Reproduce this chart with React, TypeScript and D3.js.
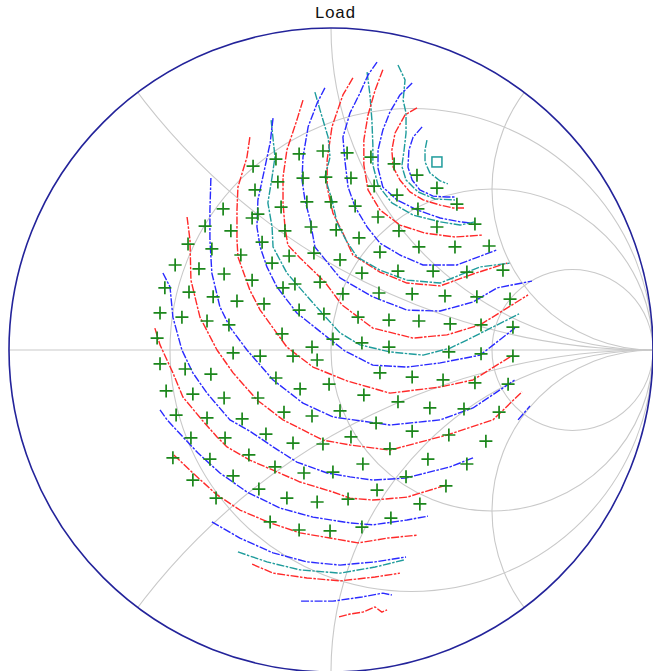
import React from 'react';
import * as d3 from 'd3';

type Pt = [number, number];

// ---- Smith chart grid ----
const chartTitle = 'Load';
const resistanceCircles = [1 / 3, 1, 3];
const reactanceArcs = [0.5, 1, 2, -0.5, -1, -2];

// ---- Measured load impedances (reflection coefficient, re/im) ----
const measuredPoints: Pt[] = [
  [-0.242, 0.571], [-0.171, 0.593], [-0.099, 0.609], [-0.025, 0.618], [0.05, 0.612], [0.124, 0.599],
  [0.196, 0.578], [0.267, 0.543], [0.329, 0.503], [0.391, 0.453], [0.447, 0.391], [0.491, 0.323],
  [0.534, 0.248], [0.556, 0.158], [0.565, 0.071], [0.565, -0.019], [0.55, -0.106], [0.522, -0.193],
  [0.481, -0.283], [0.422, -0.354], [0.357, -0.422], [0.276, -0.478], [0.186, -0.522], [0.096, -0.55],
  [-0.003, -0.562], [-0.099, -0.559], [-0.189, -0.534],
  [-0.236, 0.497], [-0.165, 0.522], [-0.087, 0.534], [-0.016, 0.537], [0.062, 0.534], [0.134, 0.509],
  [0.205, 0.481], [0.27, 0.438], [0.329, 0.382], [0.385, 0.32], [0.422, 0.242], [0.453, 0.165],
  [0.466, 0.078], [0.466, -0.012], [0.447, -0.102], [0.413, -0.183], [0.366, -0.264], [0.301, -0.339],
  [0.233, -0.394], [0.143, -0.435], [0.053, -0.463], [-0.043, -0.472], [-0.137, -0.46], [-0.224, -0.432],
  [-0.227, 0.422], [-0.155, 0.444], [-0.075, 0.46], [0.0, 0.46], [0.075, 0.447], [0.146, 0.413],
  [0.211, 0.37], [0.273, 0.32], [0.317, 0.245], [0.354, 0.168], [0.37, 0.081], [0.366, -0.006],
  [0.348, -0.093], [0.307, -0.18], [0.252, -0.252], [0.183, -0.307], [0.099, -0.354], [0.006, -0.379],
  [-0.084, -0.382], [-0.174, -0.363], [-0.255, -0.326],
  [-0.245, 0.41], [-0.143, 0.37], [-0.062, 0.382], [0.016, 0.373], [0.087, 0.348], [0.152, 0.304],
  [0.208, 0.245], [0.252, 0.174], [0.273, 0.09], [0.252, -0.084], [0.208, -0.161], [0.14, -0.227],
  [0.062, -0.27], [-0.025, -0.292], [-0.118, -0.289], [-0.202, -0.261],
  [-0.214, 0.335], [-0.13, 0.292], [-0.053, 0.301], [0.028, 0.28], [0.096, 0.239], [0.149, 0.177],
  [0.18, 0.093], [0.18, 0.009], [0.152, -0.071], [0.102, -0.14], [0.028, -0.189], [-0.059, -0.205],
  [-0.146, -0.193],
  [-0.183, 0.27], [-0.112, 0.205], [-0.034, 0.211], [0.037, 0.174], [0.084, 0.102], [0.096, 0.022],
  [0.006, 0.034], [-0.043, -0.031], [-0.096, -0.121], [-0.006, -0.106], [-0.171, -0.087], [-0.22, -0.019],
  [-0.118, -0.019], [-0.059, 0.009], [-0.152, 0.05],
  [-0.335, 0.438], [-0.391, 0.385], [-0.311, 0.37], [-0.444, 0.329], [-0.37, 0.314], [-0.28, 0.295],
  [-0.484, 0.264], [-0.41, 0.252], [-0.332, 0.236], [-0.245, 0.217], [-0.149, 0.193], [-0.516, 0.193],
  [-0.441, 0.18], [-0.366, 0.165], [-0.292, 0.152], [-0.208, 0.143], [-0.099, 0.124], [-0.022, 0.112],
  [-0.531, 0.115], [-0.463, 0.102], [-0.385, 0.09], [-0.317, 0.078], [-0.54, 0.037], [-0.531, -0.043],
  [-0.453, -0.059], [-0.373, -0.075], [-0.304, -0.009], [-0.512, -0.127], [-0.429, -0.137], [-0.332, -0.149],
  [-0.227, -0.149], [-0.481, -0.202], [-0.385, -0.211], [-0.276, -0.214], [-0.435, -0.273], [-0.329, -0.273],
  [-0.491, -0.335], [-0.376, -0.339], [-0.429, -0.404], [-0.304, -0.391], [-0.357, -0.46],
];

// Optimum load (marker square)
const optimumLoad: Pt = [0.329, 0.584];

// ---- Output power contours, innermost first ----
const contour01: Pt[] = [[0.298, 0.652], [0.292, 0.621], [0.292, 0.584], [0.307, 0.55], [0.339, 0.525], [0.363, 0.516]];
const contour02: Pt[] = [[0.283, 0.693], [0.255, 0.661], [0.242, 0.621], [0.239, 0.568], [0.252, 0.528], [0.276, 0.497], [0.317, 0.478], [0.36, 0.475], [0.385, 0.475]];
const contour03: Pt[] = [[0.208, 0.885], [0.23, 0.839], [0.224, 0.776], [0.233, 0.736], [0.233, 0.674], [0.227, 0.621], [0.22, 0.571], [0.233, 0.528], [0.27, 0.491], [0.323, 0.469], [0.385, 0.466]];
const contour04: Pt[] = [[0.267, 0.752], [0.23, 0.73], [0.199, 0.674], [0.189, 0.621], [0.193, 0.568], [0.214, 0.528], [0.245, 0.491], [0.286, 0.466], [0.339, 0.45], [0.379, 0.441], [0.416, 0.441]];
const contour05: Pt[] = [[0.252, 0.829], [0.214, 0.792], [0.183, 0.739], [0.161, 0.683], [0.146, 0.621], [0.146, 0.565], [0.161, 0.506], [0.205, 0.466], [0.267, 0.435], [0.339, 0.41], [0.401, 0.398], [0.438, 0.394]];
const contour06: Pt[] = [[0.112, 0.863], [0.121, 0.792], [0.127, 0.714], [0.13, 0.637], [0.13, 0.575], [0.146, 0.512], [0.189, 0.457], [0.255, 0.419], [0.339, 0.398], [0.401, 0.388], [0.447, 0.398]];
const contour07: Pt[] = [[0.161, 0.87], [0.137, 0.807], [0.115, 0.73], [0.102, 0.652], [0.102, 0.575], [0.115, 0.497], [0.152, 0.435], [0.214, 0.388], [0.292, 0.363], [0.385, 0.351], [0.472, 0.357]];
const contour08: Pt[] = [[0.143, 0.894], [0.115, 0.854], [0.09, 0.798], [0.059, 0.736], [0.037, 0.661], [0.043, 0.59], [0.053, 0.506], [0.075, 0.444], [0.112, 0.382], [0.152, 0.332], [0.214, 0.295], [0.286, 0.264], [0.391, 0.264], [0.516, 0.311]];
const contour09: Pt[] = [[0.068, 0.845], [0.037, 0.792], [0.003, 0.693], [-0.012, 0.59], [-0.012, 0.506], [0.006, 0.425], [0.037, 0.363], [0.068, 0.295], [0.152, 0.242], [0.236, 0.208], [0.339, 0.199], [0.441, 0.236], [0.547, 0.27]];
const contour10: Pt[] = [[-0.05, 0.801], [-0.034, 0.745], [-0.009, 0.661], [-0.003, 0.599], [-0.019, 0.537], [0.003, 0.466], [0.019, 0.394], [0.05, 0.335], [0.081, 0.289], [0.152, 0.248], [0.236, 0.217], [0.339, 0.208], [0.463, 0.258], [0.556, 0.27]];
const contour11: Pt[] = [[-0.019, 0.814], [-0.043, 0.767], [-0.071, 0.693], [-0.087, 0.599], [-0.09, 0.528], [-0.081, 0.466], [-0.065, 0.404], [-0.05, 0.32], [-0.012, 0.273], [0.028, 0.224], [0.13, 0.165], [0.236, 0.124], [0.339, 0.121], [0.441, 0.149], [0.516, 0.193], [0.624, 0.214]];
const contour12: Pt[] = [[-0.087, 0.776], [-0.106, 0.714], [-0.137, 0.621], [-0.149, 0.537], [-0.149, 0.457], [-0.143, 0.382], [-0.134, 0.326], [-0.096, 0.286], [-0.019, 0.211], [0.034, 0.14], [0.13, 0.068], [0.255, 0.037], [0.36, 0.047], [0.463, 0.078], [0.612, 0.171]];
const contour13: Pt[] = [[-0.186, 0.714], [-0.174, 0.599], [-0.183, 0.537], [-0.196, 0.457], [-0.183, 0.382], [-0.18, 0.32], [-0.137, 0.239], [-0.056, 0.146], [0.028, 0.053], [0.09, 0.016], [0.183, -0.006], [0.286, -0.016], [0.37, 0.006], [0.422, 0.031], [0.584, 0.112]];
const contour14: Pt[] = [[-0.18, 0.72], [-0.189, 0.643], [-0.205, 0.568], [-0.227, 0.466], [-0.23, 0.382], [-0.22, 0.32], [-0.199, 0.258], [-0.168, 0.196], [-0.106, 0.115], [-0.012, 0.04], [0.043, -0.003], [0.13, -0.047], [0.236, -0.053], [0.339, -0.04], [0.463, -0.016], [0.571, 0.068]];
const contour15: Pt[] = [[-0.252, 0.661], [-0.261, 0.599], [-0.289, 0.506], [-0.292, 0.435], [-0.292, 0.342], [-0.289, 0.289], [-0.252, 0.186], [-0.22, 0.124], [-0.137, 0.009], [-0.056, -0.053], [0.05, -0.096], [0.183, -0.134], [0.339, -0.115], [0.441, -0.093], [0.565, -0.016]];
const contour16: Pt[] = [[-0.373, 0.534], [-0.376, 0.435], [-0.376, 0.342], [-0.37, 0.239], [-0.345, 0.134], [-0.314, 0.071], [-0.261, 0.0], [-0.18, -0.093], [-0.087, -0.165], [0.006, -0.208], [0.183, -0.233], [0.339, -0.217], [0.441, -0.18], [0.571, -0.093]];
const contour17: Pt[] = [[-0.447, 0.413], [-0.438, 0.342], [-0.435, 0.217], [-0.407, 0.102], [-0.354, 0.0], [-0.304, -0.071], [-0.23, -0.155], [-0.149, -0.217], [-0.025, -0.28], [0.059, -0.295], [0.183, -0.311], [0.36, -0.264], [0.503, -0.217], [0.593, -0.13]];
const contour18: Pt[] = [[0.581, -0.217], [0.618, -0.174]];
const contour19: Pt[] = [[-0.522, 0.239], [-0.5, 0.196], [-0.491, 0.102], [-0.463, 0.0], [-0.429, -0.071], [-0.385, -0.134], [-0.314, -0.217], [-0.252, -0.252], [-0.18, -0.301], [-0.106, -0.348], [-0.012, -0.382], [0.059, -0.394], [0.13, -0.404], [0.23, -0.398], [0.37, -0.363], [0.441, -0.335]];
const contour20: Pt[] = [[-0.547, 0.068], [-0.531, 0.016], [-0.491, -0.071], [-0.46, -0.146], [-0.401, -0.217], [-0.354, -0.27], [-0.323, -0.301], [-0.252, -0.342], [-0.18, -0.373], [-0.096, -0.41], [0.006, -0.441], [0.059, -0.46], [0.13, -0.466], [0.236, -0.457], [0.36, -0.419]];
const contour21: Pt[] = [[-0.531, -0.186], [-0.509, -0.217], [-0.46, -0.27], [-0.413, -0.32], [-0.345, -0.382], [-0.261, -0.441], [-0.158, -0.491], [-0.056, -0.519], [0.059, -0.537], [0.13, -0.543], [0.236, -0.528], [0.301, -0.516]];
const contour22: Pt[] = [[-0.488, -0.326], [-0.429, -0.382], [-0.354, -0.45], [-0.283, -0.497], [-0.189, -0.537], [-0.096, -0.568], [-0.003, -0.584], [0.084, -0.599], [0.177, -0.584], [0.267, -0.575]];
const contour23: Pt[] = [[-0.37, -0.534], [-0.283, -0.584], [-0.18, -0.63], [-0.075, -0.658], [0.028, -0.668], [0.137, -0.658], [0.233, -0.643]];
const contour24: Pt[] = [[-0.289, -0.627], [-0.199, -0.658], [-0.096, -0.683], [0.028, -0.693], [0.137, -0.674], [0.227, -0.652]];
const contour25: Pt[] = [[-0.245, -0.665], [-0.18, -0.693], [-0.075, -0.708], [0.028, -0.717], [0.137, -0.705], [0.214, -0.693]];
const contour26: Pt[] = [[-0.093, -0.78], [0.006, -0.78], [0.096, -0.767], [0.161, -0.755], [0.189, -0.761]];
const contour27: Pt[] = [[0.025, -0.829], [0.059, -0.82], [0.099, -0.814], [0.137, -0.798], [0.158, -0.814], [0.174, -0.807]];

const RED = '#ff2a2a';
const BLUE = '#2a2aff';
const TEAL = '#1f9c9c';

const contours: { pts: Pt[]; color: string }[] = [
  { pts: contour01, color: TEAL }, { pts: contour02, color: BLUE }, { pts: contour03, color: TEAL },
  { pts: contour04, color: RED }, { pts: contour05, color: BLUE }, { pts: contour06, color: TEAL },
  { pts: contour07, color: RED }, { pts: contour08, color: BLUE }, { pts: contour09, color: RED },
  { pts: contour10, color: TEAL }, { pts: contour11, color: BLUE }, { pts: contour12, color: RED },
  { pts: contour13, color: TEAL }, { pts: contour14, color: BLUE }, { pts: contour15, color: RED },
  { pts: contour16, color: BLUE }, { pts: contour17, color: RED }, { pts: contour18, color: BLUE },
  { pts: contour19, color: BLUE }, { pts: contour20, color: RED }, { pts: contour21, color: BLUE },
  { pts: contour22, color: RED }, { pts: contour23, color: BLUE }, { pts: contour24, color: TEAL },
  { pts: contour25, color: RED }, { pts: contour26, color: BLUE }, { pts: contour27, color: RED },
];

const W = 653;
const H = 671;
const CX = 331;
const CY = 350;
const R = 322;

export default function App() {
  const xs = d3.scaleLinear().domain([-1, 1]).range([CX - R, CX + R]);
  const ys = d3.scaleLinear().domain([-1, 1]).range([CY + R, CY - R]);
  const unit = xs(1) - xs(0);
  const line = d3.line<Pt>().x((d) => xs(d[0])).y((d) => ys(d[1]));

  const gridColor = '#c9c9c9';

  return (
    <svg
      width={W}
      height={H}
      style={{ position: 'absolute', left: 0, top: 0, background: '#fff' }}
    >
      <defs>
        <clipPath id="unit-disc">
          <circle cx={xs(0)} cy={ys(0)} r={unit} />
        </clipPath>
      </defs>

      <g clipPath="url(#unit-disc)" fill="none" stroke={gridColor} strokeWidth={1.1}>
        <line x1={xs(-1)} y1={ys(0)} x2={xs(1)} y2={ys(0)} />
        {resistanceCircles.map((r) => (
          <circle key={`r${r}`} cx={xs(r / (1 + r))} cy={ys(0)} r={unit / (1 + r)} />
        ))}
        {reactanceArcs.map((x) => (
          <circle key={`x${x}`} cx={xs(1)} cy={ys(1 / x)} r={unit / Math.abs(x)} />
        ))}
      </g>

      <circle cx={xs(0)} cy={ys(0)} r={unit} fill="none" stroke="#23239a" strokeWidth={1.6} />

      <g fill="none" strokeWidth={1.4} strokeDasharray="8 1.5 2.5 1.5" strokeLinejoin="round">
        {contours.map((c, i) => (
          <path key={i} d={line(c.pts) ?? ''} stroke={c.color} />
        ))}
      </g>

      <g stroke="#1b861b" strokeWidth={1.7}>
        {measuredPoints.map((p, i) => {
          const x = xs(p[0]);
          const y = ys(p[1]);
          return <path key={i} d={`M${x - 6.5},${y}H${x + 6.5}M${x},${y - 6.5}V${y + 6.5}`} />;
        })}
      </g>

      <rect
        x={xs(optimumLoad[0]) - 5}
        y={ys(optimumLoad[1]) - 5}
        width={10}
        height={10}
        fill="none"
        stroke={TEAL}
        strokeWidth={1.5}
      />

      <text
        x={xs(0) + 4}
        y={18}
        textAnchor="middle"
        fontFamily="'Liberation Mono', 'DejaVu Sans Mono', monospace"
        fontSize={17}
        fill="#111"
      >
        {chartTitle}
      </text>
    </svg>
  );
}
